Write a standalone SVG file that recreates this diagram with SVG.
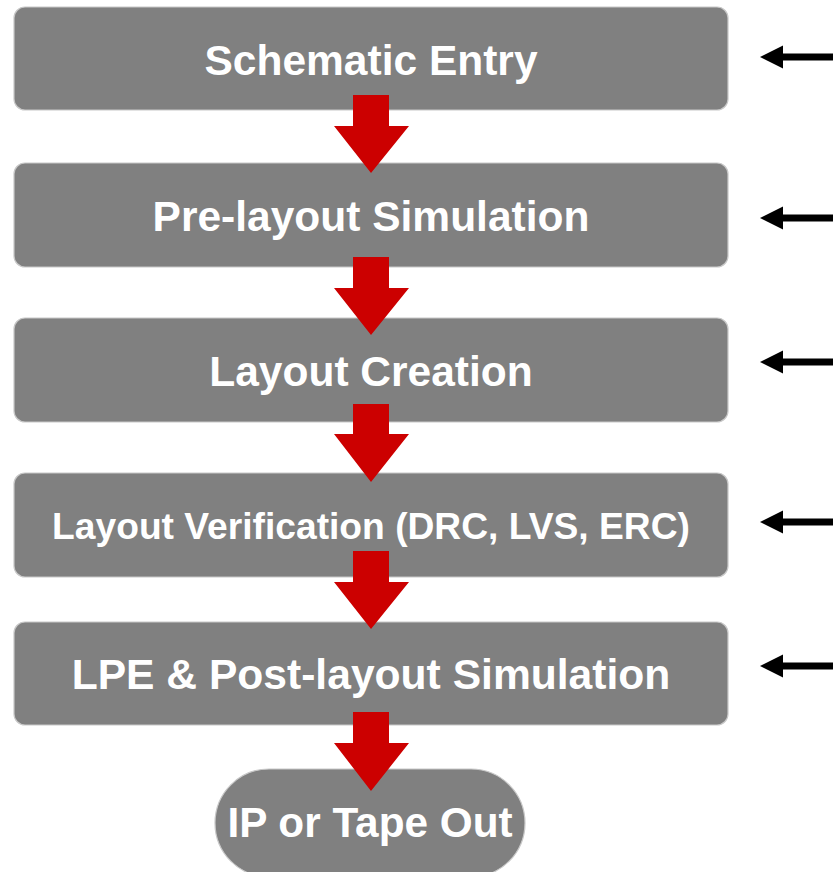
<svg xmlns="http://www.w3.org/2000/svg" width="833" height="872" viewBox="0 0 833 872">
<style>
.box{fill:#808080;stroke:#c8c8c8;stroke-width:1.2}
.lbl{font-family:"Liberation Sans",Arial,sans-serif;font-weight:bold;fill:#ffffff;text-anchor:middle}
.red{fill:#cc0000}
.blk{fill:#000000}
</style>
<rect width="833" height="872" fill="#ffffff"/>
<g id="node-schematic"><rect class="box" x="14" y="7" width="714" height="103" rx="11"/><text class="lbl" x="371" y="75" font-size="42.5">Schematic Entry</text></g>
<g id="node-prelayout"><rect class="box" x="14" y="163" width="714" height="104" rx="11"/><text class="lbl" x="371" y="231" font-size="42.5">Pre-layout Simulation</text></g>
<g id="node-layout"><rect class="box" x="14" y="318" width="714" height="104" rx="11"/><text class="lbl" x="371" y="386" font-size="42.5">Layout Creation</text></g>
<g id="node-verification"><rect class="box" x="14" y="473" width="714" height="104" rx="11"/><text class="lbl" x="371" y="539" font-size="37.2">Layout Verification (DRC, LVS, ERC)</text></g>
<g id="node-lpe"><rect class="box" x="14" y="622" width="714" height="103" rx="11"/><text class="lbl" x="371" y="689" font-size="42.6">LPE &amp; Post-layout Simulation</text></g>
<g id="node-tapeout"><rect class="box" x="215" y="769" width="310" height="108" rx="54"/><text class="lbl" x="370" y="837" font-size="42.3">IP or Tape Out</text></g>
<g id="connectors">
<polygon class="red" points="353,95 389,95 389,126 409,126 371,173 334,126 353,126"/>
<polygon class="red" points="353,257 389,257 389,288 409,288 371,335 334,288 353,288"/>
<polygon class="red" points="353,404 389,404 389,434 409,434 371,482 334,434 353,434"/>
<polygon class="red" points="353,551 389,551 389,582 409,582 371,629 334,582 353,582"/>
<polygon class="red" points="353,712 389,712 389,743 409,743 371,791 334,743 353,743"/>
<polygon class="blk" points="760,57 783,45.5 783,53.5 833,53.5 833,60.5 783,60.5 783,68.5"/>
<polygon class="blk" points="760,218 783,206.5 783,214.5 833,214.5 833,221.5 783,221.5 783,229.5"/>
<polygon class="blk" points="760,362 783,350.5 783,358.5 833,358.5 833,365.5 783,365.5 783,373.5"/>
<polygon class="blk" points="760,522 783,510.5 783,518.5 833,518.5 833,525.5 783,525.5 783,533.5"/>
<polygon class="blk" points="760,666 783,654.5 783,662.5 833,662.5 833,669.5 783,669.5 783,677.5"/>
</g>
</svg>
